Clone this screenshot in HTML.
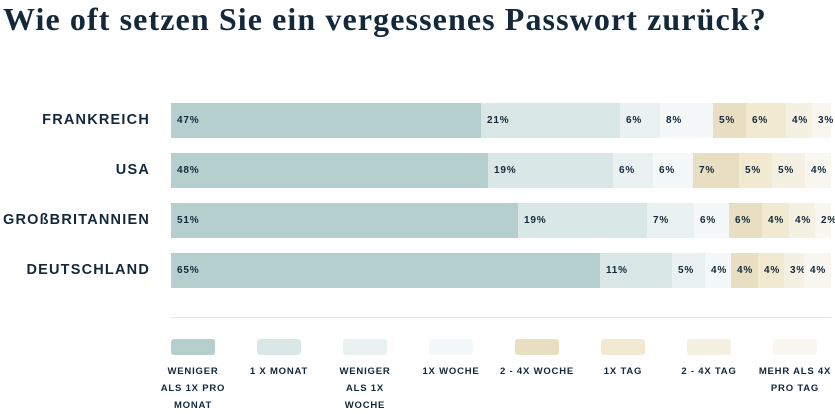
<!DOCTYPE html>
<html><head><meta charset="utf-8"><style>
body{margin:0;width:835px;height:412px;background:#fff;position:relative;overflow:hidden;font-family:"Liberation Sans",sans-serif;color:#13283a}
h1{position:absolute;left:3px;top:0;margin:0;font-family:"Liberation Serif",serif;font-weight:bold;font-size:32px;line-height:38px;letter-spacing:1.1px;white-space:nowrap}
.lab{position:absolute;right:685px;font-weight:bold;font-size:14.5px;letter-spacing:1.2px;line-height:35px;white-space:nowrap}
.bar{position:absolute;left:171px;width:660px;height:35px;display:flex}
.bar div{height:35px;font-size:10px;font-weight:bold;letter-spacing:0.8px;line-height:35px;padding-left:6px;box-sizing:border-box;white-space:nowrap;overflow:visible}
.c1{background:#b5cfcf}.c2{background:#d9e7e7}.c3{background:#e9f1f1}.c4{background:#f4f8f8}.c5{background:#e8dfc2}.c6{background:#f1ead0}.c7{background:#f4f1e3}.c8{background:#f8f7f0}
.line{position:absolute;left:171px;top:317px;width:660px;height:1px;background:#e2e6e8}
.lg{position:absolute;top:339px;width:86px;text-align:center}
.lg .sw{width:44px;height:16px;border-radius:3px;margin:0 0 0 21px}
.lg .t{font-size:9.5px;font-weight:bold;letter-spacing:0.8px;line-height:17px;margin-top:8px}
</style></head><body>
<h1>Wie oft setzen Sie ein vergessenes Passwort zurück?</h1>
<div class="lab" style="top:103px">FRANKREICH</div>
<div class="lab" style="top:153px">USA</div>
<div class="lab" style="top:203px">GROßBRITANNIEN</div>
<div class="lab" style="top:253px">DEUTSCHLAND</div>
<div class="bar" style="top:103px"><div class="c1" style="width:310px">47%</div><div class="c2" style="width:139px">21%</div><div class="c3" style="width:40px">6%</div><div class="c4" style="width:53px">8%</div><div class="c5" style="width:33px">5%</div><div class="c6" style="width:40px">6%</div><div class="c7" style="width:26px">4%</div><div class="c8" style="width:19px">3%</div></div>
<div class="bar" style="top:153px"><div class="c1" style="width:317px">48%</div><div class="c2" style="width:125px">19%</div><div class="c3" style="width:40px">6%</div><div class="c4" style="width:40px">6%</div><div class="c5" style="width:46px">7%</div><div class="c6" style="width:33px">5%</div><div class="c7" style="width:33px">5%</div><div class="c8" style="width:26px">4%</div></div>
<div class="bar" style="top:203px"><div class="c1" style="width:347px">51%</div><div class="c2" style="width:129px">19%</div><div class="c3" style="width:47px">7%</div><div class="c4" style="width:35px">6%</div><div class="c5" style="width:33px">6%</div><div class="c6" style="width:27px">4%</div><div class="c7" style="width:26px">4%</div><div class="c8" style="width:16px">2%</div></div>
<div class="bar" style="top:253px"><div class="c1" style="width:429px">65%</div><div class="c2" style="width:72px">11%</div><div class="c3" style="width:33px">5%</div><div class="c4" style="width:26px">4%</div><div class="c5" style="width:27px">4%</div><div class="c6" style="width:26px">4%</div><div class="c7" style="width:20px">3%</div><div class="c8" style="width:27px">4%</div></div>
<div class="line"></div>
<div class="lg" style="left:150px"><div class="sw c1"></div><div class="t">WENIGER<br>ALS 1X PRO<br>MONAT</div></div>
<div class="lg" style="left:236px"><div class="sw c2"></div><div class="t">1 X MONAT</div></div>
<div class="lg" style="left:322px"><div class="sw c3"></div><div class="t">WENIGER<br>ALS 1X<br>WOCHE</div></div>
<div class="lg" style="left:408px"><div class="sw c4"></div><div class="t">1X WOCHE</div></div>
<div class="lg" style="left:494px"><div class="sw c5"></div><div class="t">2 - 4X WOCHE</div></div>
<div class="lg" style="left:580px"><div class="sw c6"></div><div class="t">1X TAG</div></div>
<div class="lg" style="left:666px"><div class="sw c7"></div><div class="t">2 - 4X TAG</div></div>
<div class="lg" style="left:752px"><div class="sw c8"></div><div class="t">MEHR ALS 4X<br>PRO TAG</div></div>
</body></html>
